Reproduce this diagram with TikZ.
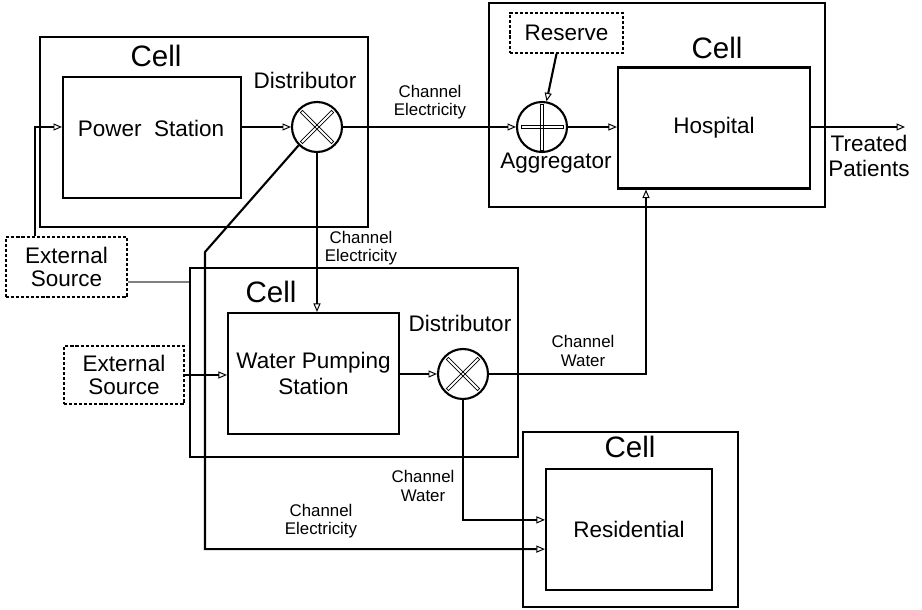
\documentclass[tikz,border=0pt]{standalone}
\usepackage{fontspec}
\setmainfont{Liberation Sans}
\usetikzlibrary{arrows.meta,fit}

\begin{document}
\begin{tikzpicture}
		[x=0.025cm, y=-0.025cm,
		box/.style= {draw=black, line width=1.5pt, inner sep=0pt, align=center, font=\fontsize{16}{18}\selectfont},
		src/.style= {draw=black, line width=1.2pt, dash pattern=on 2.2pt off 1.4pt, inner sep=0pt, align=center, font=\fontsize{16}{17}\selectfont},
		disc/.style= {circle, draw=black, line width=1.5pt, minimum size=1.25cm, inner sep=0pt},
		bar/.style= {draw=black, line width=0.55pt},
		arr/.style= {line width=1.5pt, -{Triangle[open, length=6pt, width=5pt, line width=0.7pt]}},
		big/.style= {font=\fontsize{16}{18}\selectfont, align=center},
		cell/.style= {font=\fontsize{21}{24}\selectfont},
		chan/.style= {font=\fontsize{12}{13}\selectfont, align=center}]

		\useasboundingbox (0,0) rectangle (922,610);

		% cells
		\node[box, fit={(40,37) (368,227)}] (cell1) {};
		\node[box, fit={(489,3) (825,207)}] (cell3) {};
		\node[box, fit={(190,268) (518,457)}] (cell2) {};
		\node[box, fit={(523,432) (738,607)}] (cell4) {};

		\node[cell] (c1lab) at (156,56) {Cell};
		\node[cell] (c3lab) at (717,48) {Cell};
		\node[cell] (c2lab) at (271,292) {Cell};
		\node[cell] (c4lab) at (630,447) {Cell};

		% units
		\node[box, fit={(63,77) (241,198)}] (ps) {};
		\node[big] (pslab) at (151,128) {Power\ \ Station};
		\node[box, minimum width=4.8cm, minimum height=3.025cm] (hosp) at (714,128) {Hospital};
		\node[box, minimum width=4.275cm, minimum height=3.025cm] (wp) at (313.5,373.5) {Water Pumping\\Station};
		\node[box, minimum width=4.15cm, minimum height=3.025cm] (resid) at (629,529.5) {Residential};

		\node[src, minimum width=3.025cm, minimum height=1.5cm] (es1) at (66.5,267) {External\\Source};
		\node[src, minimum width=3cm, minimum height=1.45cm] (es2) at (124,375) {External\\Source};
		\node[src, minimum width=2.825cm, minimum height=1cm] (rsv) at (566.5,33) {Reserve};

		% distributors and aggregator
		\node[disc] (d1) at (317,127) {};
		\node[disc] (d2) at (463,374) {};
		\node[disc] (agg) at (542,127) {};

		\foreach \d in {d1,d2}
			\foreach \a in {45,-45}
				\draw[bar, shift={(\d)}, rotate=\a] (-22,-1.5) rectangle (22,1.5);
		\draw[bar, shift={(agg)}] (-21,-1.5) rectangle (21,1.5);
		\draw[bar, shift={(agg)}] (-1.5,-23) rectangle (1.5,23);

		\node[big] (d1lab) at (305,80) {Distributor};
		\node[big] (d2lab) at (460,323) {Distributor};
		\node[big] (agglab) at (556,163) {Aggregator};

		% flows
		\coordinate (tp) at (905,127);
		\coordinate (kink) at (205,252);
		\coordinate (g1) at ([yshift=-0.375cm]es1.east);

		\draw[arr] ([xshift=-0.79cm]es1.north) |- (ps.west |- d1);
		\draw[gray, line width=0.9pt] (g1) -- (g1 -| cell2.west);
		\draw[arr] (ps.east |- d1) -- (d1);
		\draw[arr] (d1) -- (agg);
		\draw[arr] ([xshift=-0.25cm]rsv.south) -- (agg.80);
		\draw[arr] (agg) -- (agg -| hosp.west);
		\draw[arr] (hosp.east |- agg) -- (tp);
		\draw[arr] (d1) -- (d1 |- wp.north);
		\draw[arr] (d1.225) -- (kink) |- ([yshift=-0.49cm]resid.west);
		\draw[arr] (es2) -- (es2 -| wp.west);
		\draw[arr] (wp.east |- d2) -- (d2);
		\draw[arr] (d2) |- ([yshift=0.24cm]resid.west);
		\draw[arr] (d2) -| ([xshift=-1.7cm]hosp.south);

		% labels
		\node[big] (tplab) at (869,156) {Treated\\Patients};
		\node[chan] (ch1) at (430,102) {Channel\\Electricity};
		\node[chan] (ch2) at (361,248) {Channel\\Electricity};
		\node[chan] (ch3) at (583,351) {Channel\\Water};
		\node[chan] (ch4) at (423,486) {Channel\\Water};
		\node[chan] (ch5) at (321,521) {Channel\\Electricity};

	\end{tikzpicture}
\end{document}
